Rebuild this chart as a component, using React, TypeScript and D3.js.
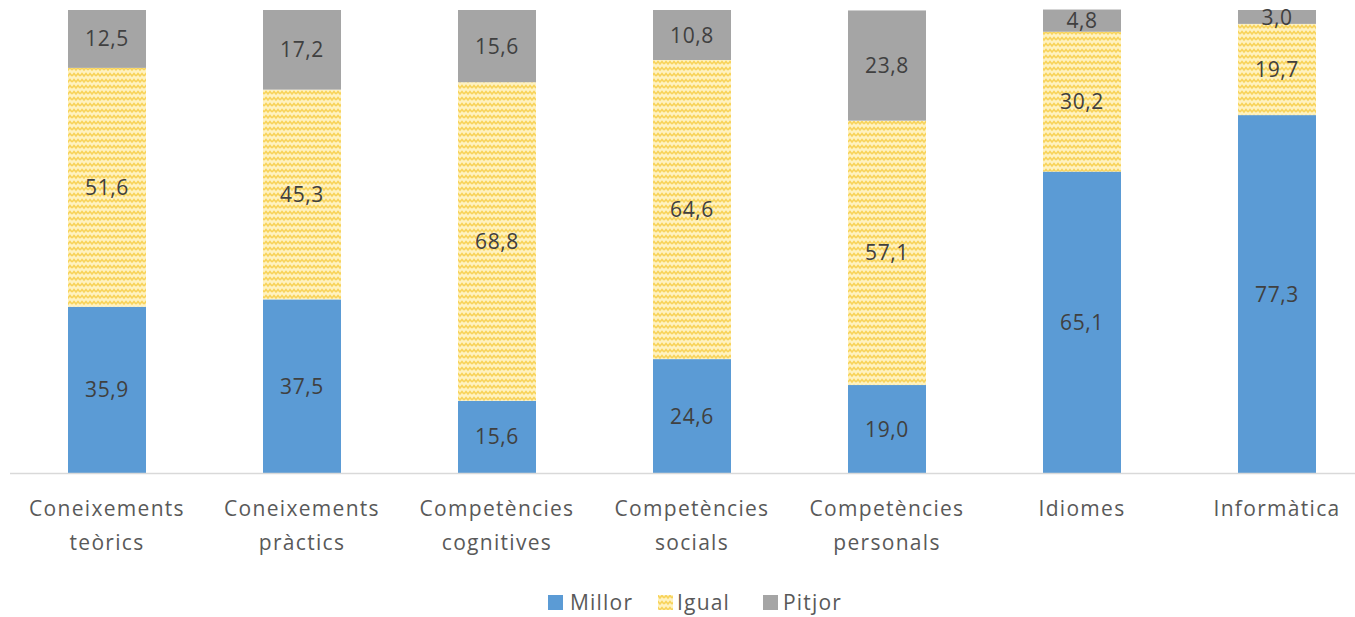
import React from "react";
import * as d3 from "d3";

const categories: string[][] = [
  ["Coneixements", "teòrics"],
  ["Coneixements", "pràctics"],
  ["Competències", "cognitives"],
  ["Competències", "socials"],
  ["Competències", "personals"],
  ["Idiomes"],
  ["Informàtica"],
];
const millor = [35.9, 37.5, 15.6, 24.6, 19.0, 65.1, 77.3];
const igual = [51.6, 45.3, 68.8, 64.6, 57.1, 30.2, 19.7];
const pitjor = [12.5, 17.2, 15.6, 10.8, 23.8, 4.8, 3.0];
const seriesNames = ["Millor", "Igual", "Pitjor"];

const W = 1355;
const H = 617;
const FONT = "'Open Sans', sans-serif";

export default function App() {
  const keys = categories.map((c) => c.join(" "));
  const x = d3.scaleBand<string>().domain(keys).range([9.5, 1374.5]).paddingInner(0.6).paddingOuter(0.3);
  const y = d3.scaleLinear().domain([0, 100]).range([473, 10]);
  const rows = keys.map((k, i) => ({ key: k, Millor: millor[i], Igual: igual[i], Pitjor: pitjor[i] }));
  const stack = d3.stack<any>().keys(seriesNames)(rows);
  const fills: Record<string, string> = { Millor: "#5B9BD5", Igual: "url(#zig)", Pitjor: "#A5A5A5" };
  const fmt = (v: number) => v.toFixed(1).replace(".", ",");
  const bw = 78;

  const legend = [
    { name: "Millor", sx: 548, tx: 570 },
    { name: "Igual", sx: 658, tx: 677 },
    { name: "Pitjor", sx: 763, tx: 783 },
  ];

  return (
    <svg width={W} height={H} style={{ position: "absolute", left: 0, top: 0, background: "#fff" }}>
      <defs>
        <pattern id="zig" width="8" height="6" patternUnits="userSpaceOnUse">
          <rect width="8" height="6" fill="#FFF2C0" />
          <polyline points="0,4 2,1.5 4,4 6,1.5 8,4" fill="none" stroke="#F8D35A" strokeWidth="1.7" />
        </pattern>
      </defs>
      <rect width={W} height={H} fill="#fff" />
      {stack.map((s) =>
        s.map((d, i) => {
          const cx = (x(keys[i]) as number) + x.bandwidth() / 2;
          return (
            <rect
              key={s.key + i}
              x={cx - bw / 2}
              y={y(d[1])}
              width={bw}
              height={y(d[0]) - y(d[1])}
              fill={fills[s.key]}
            />
          );
        })
      )}
      <line x1={10} x2={1355} y1={473.5} y2={473.5} stroke="#D9D9D9" strokeWidth={1.5} />
      {stack.map((s) =>
        s.map((d, i) => {
          const cx = (x(keys[i]) as number) + x.bandwidth() / 2;
          const cy = (y(d[0]) + y(d[1])) / 2;
          return (
            <text
              key={"l" + s.key + i}
              x={cx}
              y={cy}
              dy="0.36em"
              textAnchor="middle"
              fontFamily={FONT}
              fontSize={21}
              letterSpacing={0.6}
              fill="#404040"
            >
              {fmt(d[1] - d[0])}
            </text>
          );
        })
      )}
      {categories.map((lines, i) => {
        const cx = (x(keys[i]) as number) + x.bandwidth() / 2;
        return lines.map((ln, j) => (
          <text
            key={"c" + i + j}
            x={cx}
            y={516 + j * 34}
            textAnchor="middle"
            fontFamily={FONT}
            fontSize={21}
            letterSpacing={1.3}
            fill="#595959"
          >
            {ln}
          </text>
        ));
      })}
      {legend.map((l) => (
        <g key={l.name}>
          <rect x={l.sx} y={595} width={15} height={15} fill={fills[l.name]} />
          <text x={l.tx} y={610} fontFamily={FONT} fontSize={21} letterSpacing={1.2} fill="#595959">
            {l.name}
          </text>
        </g>
      ))}
    </svg>
  );
}
